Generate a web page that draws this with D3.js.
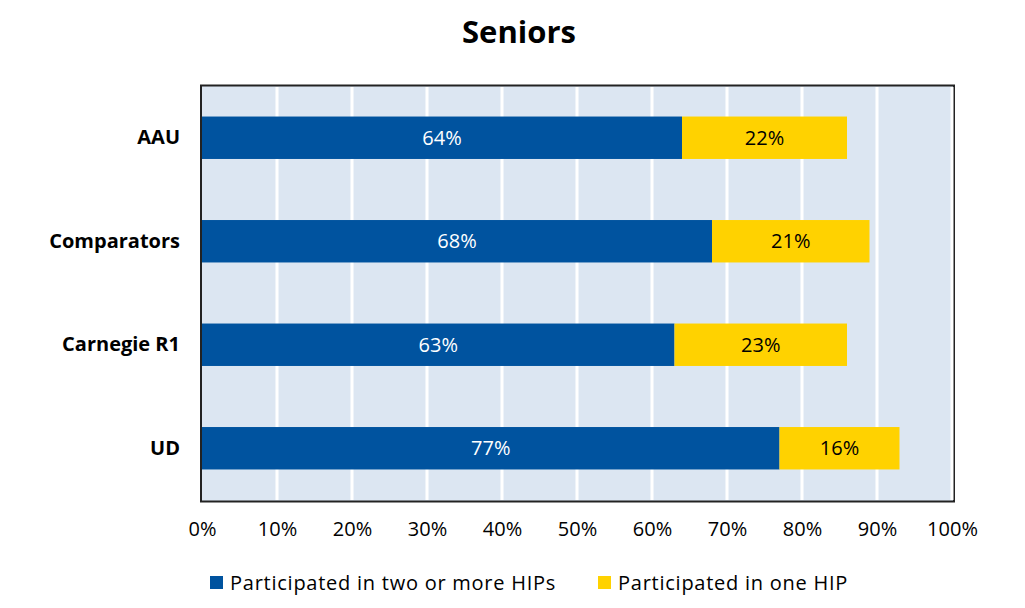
<!DOCTYPE html>
<html><head><meta charset="utf-8">
<script src="https://cdn.jsdelivr.net/npm/d3@7"></script>
<style>body{margin:0;background:#fff}svg{display:block}text{font-family:"Open Sans",sans-serif}</style>
</head><body><svg id="c" width="1025" height="608"></svg>
<script>
const categories = ["AAU", "Comparators", "Carnegie R1", "UD"];
const twoOrMore = [64, 68, 63, 77];
const oneHIP = [22, 21, 23, 16];
const seriesNames = ["Participated in two or more HIPs", "Participated in one HIP"];
const tickValues = [0,10,20,30,40,50,60,70,80,90,100];
const colors = ["#00539F", "#FFD200"];
const FONT = "\"Open Sans\",sans-serif";

const svg = d3.select("#c");
const x = d3.scaleLinear().domain([0,100]).range([202,952]);
const y = d3.scaleBand().domain(categories).range([86,500]).paddingInner(0.59).paddingOuter(0.295);

svg.append("text").attr("x",519).attr("y",43).attr("text-anchor","middle")
  .style("font-size","31px").style("font-weight","bold").text("Seniors");

svg.append("rect").attr("x",201).attr("y",85.5).attr("width",753).attr("height",416)
  .attr("fill","#DCE6F2").attr("stroke","#222").attr("stroke-width",2);

svg.append("g").selectAll("line").data(tickValues.slice(1)).join("line")
  .attr("x1",d=>x(d)).attr("x2",d=>x(d)).attr("y1",87).attr("y2",500)
  .attr("stroke","#fff").attr("stroke-width",3);

const stacked = categories.map((c,i)=>({c, a:twoOrMore[i], b:oneHIP[i]}));
const g = svg.append("g");
g.selectAll("rect.a").data(stacked).join("rect").attr("class","a")
  .attr("x",x(0)).attr("y",d=>y(d.c)).attr("width",d=>x(d.a)-x(0)).attr("height",y.bandwidth())
  .attr("fill",colors[0]);
g.selectAll("rect.b").data(stacked).join("rect").attr("class","b")
  .attr("x",d=>x(d.a)).attr("y",d=>y(d.c)).attr("width",d=>x(d.a+d.b)-x(d.a)).attr("height",y.bandwidth())
  .attr("fill",colors[1]);
g.selectAll("text.a").data(stacked).join("text").attr("class","a")
  .attr("x",d=>(x(0)+x(d.a))/2).attr("y",d=>y(d.c)+y.bandwidth()/2).attr("dy","0.36em")
  .attr("text-anchor","middle").attr("fill","#fff").style("font-size","20px").text(d=>d.a+"%");
g.selectAll("text.b").data(stacked).join("text").attr("class","b")
  .attr("x",d=>(x(d.a)+x(d.a+d.b))/2).attr("y",d=>y(d.c)+y.bandwidth()/2).attr("dy","0.36em")
  .attr("text-anchor","middle").attr("fill","#000").style("font-size","20px").text(d=>d.b+"%");

const xa = svg.append("g").attr("transform","translate(0,502)")
  .call(d3.axisBottom(x).tickValues(tickValues).tickFormat(d=>d+"%").tickSize(0).tickPadding(20));
xa.select(".domain").remove();
xa.selectAll("text").style("font-size","20px").attr("fill","#000").style("font-family",FONT);

const ya = svg.append("g").attr("transform","translate(180,0)")
  .call(d3.axisLeft(y).tickSize(0).tickPadding(0));
ya.select(".domain").remove();
ya.selectAll("text").style("font-size","20px").style("font-weight","bold").attr("fill","#000").style("font-family",FONT);

const legX = [210, 598];
const lg = svg.append("g").selectAll("g").data(seriesNames).join("g")
  .attr("transform",(d,i)=>`translate(${legX[i]},576)`);
lg.append("rect").attr("width",13).attr("height",13).attr("fill",(d,i)=>colors[i]);
lg.append("text").attr("x",20).attr("y",7).attr("dy","0.36em").style("font-size","20px")
  .style("letter-spacing","0.75px").text(d=>d);
</script></body></html>
